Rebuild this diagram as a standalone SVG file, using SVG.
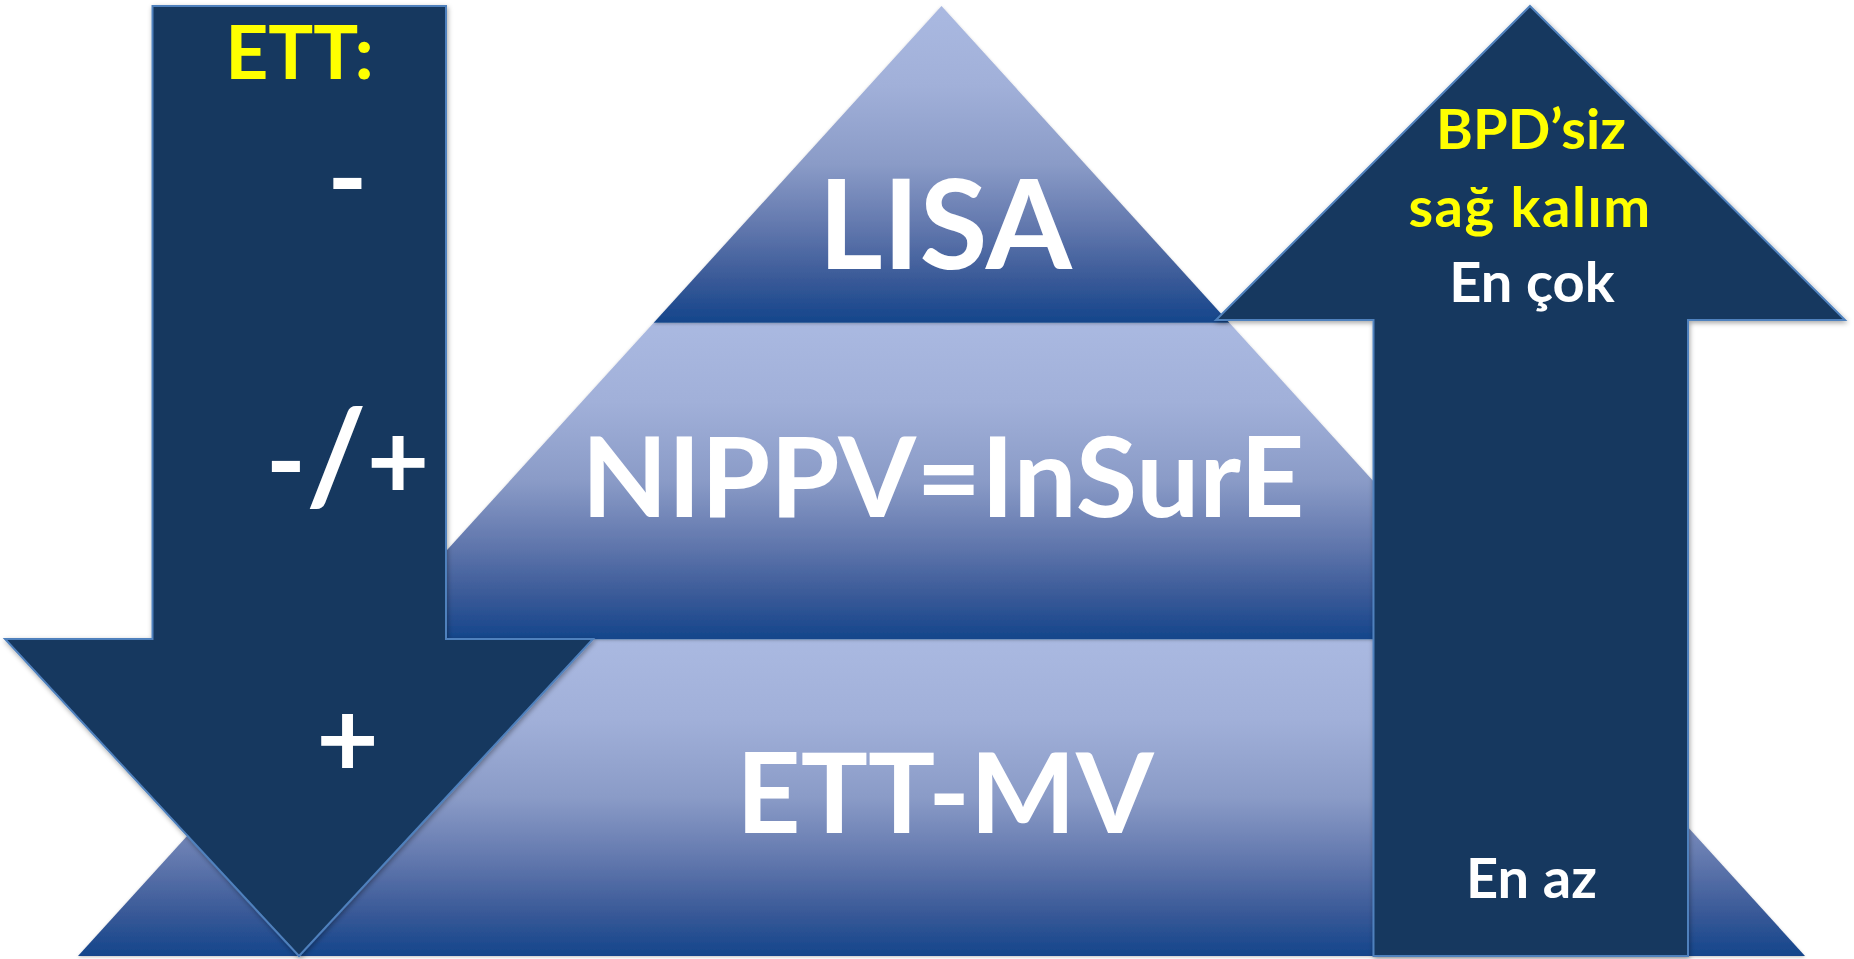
<svg xmlns="http://www.w3.org/2000/svg" width="1854" height="959" viewBox="0 0 1854 959">
  <defs>
    <!-- vertical fill shared by the three pyramid tiers -->
    <linearGradient id="tierFill" x1="0" y1="0" x2="0" y2="1">
      <stop offset="0" stop-color="#aab9e1"/>
      <stop offset="0.25" stop-color="#a1b0d9"/>
      <stop offset="0.5" stop-color="#8a9bc7"/>
      <stop offset="0.7" stop-color="#6177ad"/>
      <stop offset="0.86" stop-color="#3a5a98"/>
      <stop offset="1" stop-color="#14458b"/>
    </linearGradient>
    <filter id="softShadow" x="-5%" y="-5%" width="110%" height="110%">
      <feDropShadow dx="1" dy="2" stdDeviation="2.5" flood-color="#000" flood-opacity="0.35"/>
    </filter>
    <filter id="tierShadow" x="-5%" y="-5%" width="110%" height="110%">
      <feDropShadow dx="0" dy="1" stdDeviation="1.5" flood-color="#000" flood-opacity="0.25"/>
    </filter>
  </defs>
  <style>
    .tier { fill: url(#tierFill); filter: url(#tierShadow); }
    .arrow { fill: #17375e; stroke: #4f81bd; stroke-width: 2; stroke-linejoin: miter; filter: url(#softShadow); }
    .big { font-family: Lato, "Open Sans", "DejaVu Sans", sans-serif; font-weight: 700; fill: #ffffff; text-anchor: middle; }
    .lbl { font-family: Lato, "Open Sans", "DejaVu Sans", sans-serif; font-weight: 700; text-anchor: middle; }
    .sign { font-size: 108px; }
    .yellow { fill: #ffff00; }
    .white { fill: #ffffff; }
  </style>

  <rect width="1854" height="959" fill="#ffffff"/>

  <!-- pyramid tiers -->
  <g id="tier-bottom">
    <polygon class="tier" points="365.9,639.3 1517.1,639.3 1805,956 78,956"/>
    <text class="big" x="945" y="833" font-size="112">ETT-MV</text>
  </g>
  <g id="tier-middle">
    <polygon class="tier" points="653.7,322.7 1229.3,322.7 1517.1,639.3 365.9,639.3"/>
    <text class="big" x="943" y="517" font-size="112">NIPPV=InSurE</text>
  </g>
  <g id="tier-top">
    <polygon class="tier" points="941.5,6 1229.3,322.7 653.7,322.7"/>
    <text class="big" x="945" y="269" font-size="124">LISA</text>
  </g>

  <!-- downward arrow on the left -->
  <g id="arrow-down">
    <polygon class="arrow" points="152.5,6 446,6 446,639 593,639 299,956 5,639 152.5,639"/>
    <text class="lbl yellow" x="299.5" y="79" font-size="75">ETT:</text>
    <text class="lbl white sign" x="347.5" y="216">-</text>
    <text class="lbl white sign" x="347.5" y="499">-<tspan font-size="130" dy="4">/</tspan><tspan dy="-4">+</tspan></text>
    <text class="lbl white sign" x="347.5" y="777">+</text>
  </g>

  <!-- upward arrow on the right -->
  <g id="arrow-up">
    <polygon class="arrow" points="1530,6 1845,320 1688,320 1688,956 1373.5,956 1373.5,320 1216,320"/>
    <text class="lbl yellow" x="1531" y="149" font-size="56">BPD’siz</text>
    <text class="lbl yellow" x="1530" y="227" font-size="56" letter-spacing="1.5">sağ kalım</text>
    <text class="lbl white" x="1532" y="302" font-size="56">En çok</text>
    <text class="lbl white" x="1531.5" y="898" font-size="56">En az</text>
  </g>
</svg>
